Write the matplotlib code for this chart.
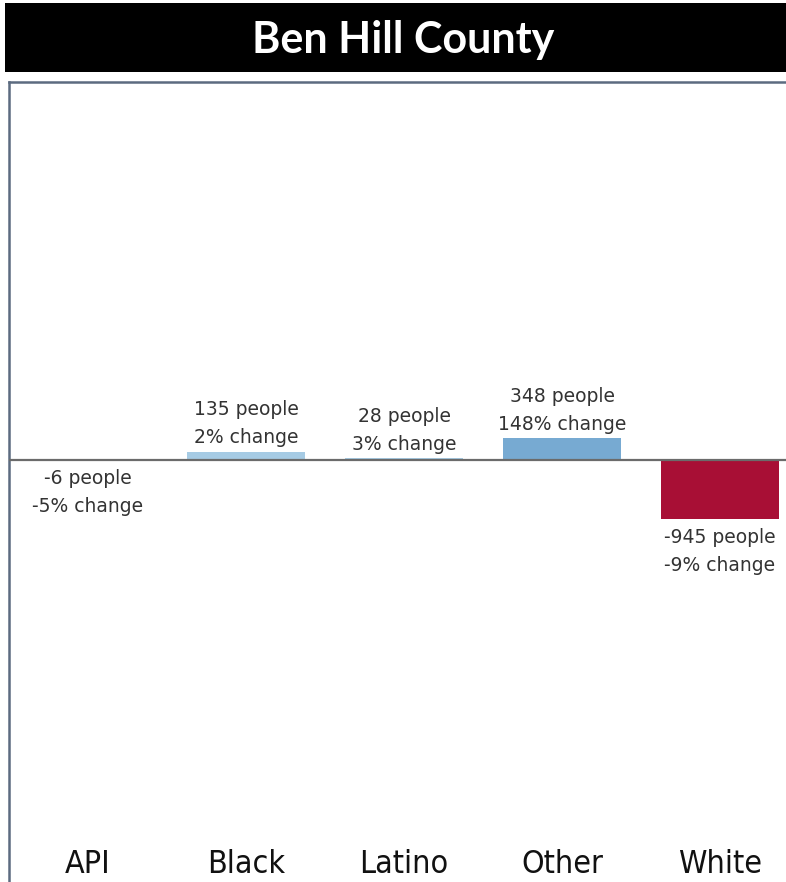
import matplotlib.pyplot as plt
from matplotlib.patches import Rectangle

# data
groups = ["API", "Black", "Latino", "Other", "White"]
people = [-6, 135, 28, 348, -945]
pct = [-5, 2, 3, 148, -9]
colors = ["#f2c6cf", "#a6cbe4", "#a6cbe4", "#77aad2", "#a80f35"]

W, H = 786, 882
fig = plt.figure(figsize=(W / 100, H / 100), dpi=100)

# black title band
fig.patches.append(Rectangle((5 / W, 1 - 72 / H), 1, 69 / H, transform=fig.transFigure,
                             facecolor="black", edgecolor="none", zorder=0))
fig.text(403 / W, 1 - 40 / H, "Ben Hill County", color="white",
         fontsize=31, fontweight="bold", family="Lato", ha="center", va="center")

# axes: runs past the right edge and down to the bottom, like the original
ax = fig.add_axes([9 / W, 0, 790 / W, 1 - 82 / H])
scale = 15.9  # people per pixel
ax.set_ylim(-(H - 460) * scale, (460 - 82) * scale)
ax.set_xlim(-0.5, len(groups) - 0.5)

x = range(len(groups))
ax.bar(x, people, width=0.745, color=colors, zorder=2)
ax.axhline(0, color="#6b6b6b", lw=1.6, zorder=3)

for i, (p, c) in enumerate(zip(people, pct)):
    txt = f"{p} people\n{c}% change"
    if p >= 0:
        ax.annotate(txt, (i, p), xytext=(0, 3), textcoords="offset points",
                    ha="center", va="bottom", fontsize=13.5, color="#333333",
                    linespacing=1.6)
    else:
        ax.annotate(txt, (i, p), xytext=(0, -6.5), textcoords="offset points",
                    ha="center", va="top", fontsize=13.5, color="#333333",
                    linespacing=1.6)

ax.set_xticks(list(x))
ax.set_xticklabels(groups, fontsize=23, color="#111111", fontstretch="condensed")
ax.tick_params(axis="x", length=0, pad=-24)
ax.set_yticks([])

for s in ["right", "bottom"]:
    ax.spines[s].set_visible(False)
for s in ["left", "top"]:
    ax.spines[s].set_color("#5c6b80")
    ax.spines[s].set_linewidth(1.8)

fig.savefig("out.png", dpi=100)
